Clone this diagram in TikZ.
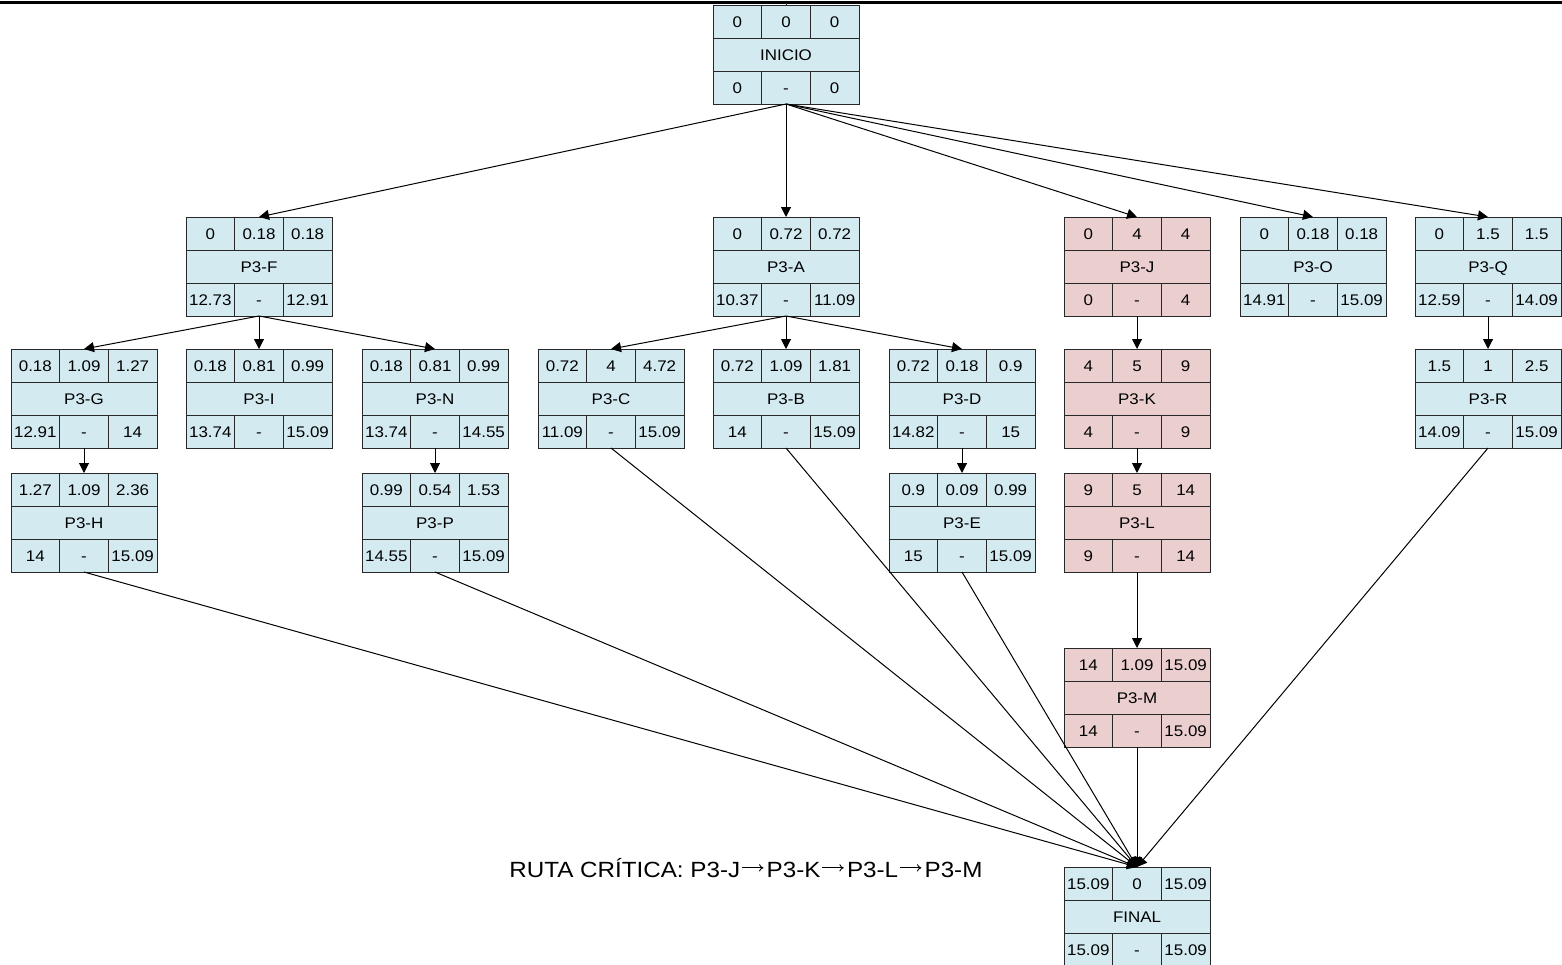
\documentclass[tikz,border=0pt]{standalone}
\usepackage{fontspec}
\setmainfont{Liberation Sans}[FakeStretch=1.1]
\usetikzlibrary{arrows.meta}

\definecolor{cellblue}{RGB}{210,234,240}
\definecolor{cellpink}{RGB}{235,206,206}
\definecolor{boxline}{RGB}{40,40,40}

\tikzset{
  actbox/.style={draw=boxline, line width=0.5pt, minimum width=73pt,
    minimum height=49.5pt, inner sep=0pt, outer sep=0pt},
  plainact/.style={actbox, fill=cellblue},
  critact/.style={actbox, fill=cellpink},
  grid line/.style={draw=boxline, line width=0.5pt},
  cell/.style={inner sep=0pt, text height=5.6pt, text depth=0pt,
    font=\fontsize{7.7}{8}\selectfont},
  link/.style={draw=black, line width=0.5pt,
    -{Triangle[length=5pt,width=5pt]}},
}

% one row of three cells: box name, tag, vertical offset, three values
\newcommand\cellrow[6]{%
  \node[cell] (#1-#21) at ([shift={(-24.33pt,#3)}]#1.center) {#4};
  \node[cell] (#1-#22) at ([shift={(0pt,#3)}]#1.center) {#5};
  \node[cell] (#1-#23) at ([shift={(24.33pt,#3)}]#1.center) {#6};
}

% activity box: name, position, style, label, {ES}{D}{EF}, {LS}{slack}{LF}
\newcommand\activity[6]{%
  \node[#3] (#1) at (#2) {};
  \draw[grid line]
    ([shift={(-36.5pt,8.25pt)}]#1.center) -- ([shift={(36.5pt,8.25pt)}]#1.center)
    ([shift={(-36.5pt,-8.25pt)}]#1.center) -- ([shift={(36.5pt,-8.25pt)}]#1.center)
    ([shift={(-12.17pt,24.75pt)}]#1.center) -- ([shift={(-12.17pt,8.25pt)}]#1.center)
    ([shift={(12.17pt,24.75pt)}]#1.center) -- ([shift={(12.17pt,8.25pt)}]#1.center)
    ([shift={(-12.17pt,-8.25pt)}]#1.center) -- ([shift={(-12.17pt,-24.75pt)}]#1.center)
    ([shift={(12.17pt,-8.25pt)}]#1.center) -- ([shift={(12.17pt,-24.75pt)}]#1.center);
  \node[cell] (#1-name) at (#1.center) {#4};
  \cellrow{#1}{t}{16.5pt}#5
  \cellrow{#1}{b}{-16.5pt}#6
}

% thin arrow between activities in the caption
\newcommand\nextact{\kern0.6pt\tikz[baseline=0pt]{\draw[line width=0.45pt,
  -{To[length=2.2pt,width=3.6pt]}] (0pt,4.6pt) -- (10.8pt,4.6pt);}\kern1.4pt}

\begin{document}
\begin{tikzpicture}[x=0.5pt, y=-0.5pt]
\useasboundingbox (0,0) rectangle (1562,964);

% header rule
\draw[line width=1.6pt] (0,2.5) -- (1562,2.5);
\coordinate (bar) at (786,2.5);

% start
\activity{inicio}{786,54.5}{plainact}{INICIO}{{0}{0}{0}}{{0}{-}{0}}

% first level
\activity{pF}{259,266.5}{plainact}{P3-F}{{0}{0.18}{0.18}}{{12.73}{-}{12.91}}
\activity{pA}{786,266.5}{plainact}{P3-A}{{0}{0.72}{0.72}}{{10.37}{-}{11.09}}
\activity{pJ}{1137,266.5}{critact}{P3-J}{{0}{4}{4}}{{0}{-}{4}}
\activity{pO}{1313,266.5}{plainact}{P3-O}{{0}{0.18}{0.18}}{{14.91}{-}{15.09}}
\activity{pQ}{1488,266.5}{plainact}{P3-Q}{{0}{1.5}{1.5}}{{12.59}{-}{14.09}}

% second level
\activity{pG}{84,398.5}{plainact}{P3-G}{{0.18}{1.09}{1.27}}{{12.91}{-}{14}}
\activity{pI}{259,398.5}{plainact}{P3-I}{{0.18}{0.81}{0.99}}{{13.74}{-}{15.09}}
\activity{pN}{435,398.5}{plainact}{P3-N}{{0.18}{0.81}{0.99}}{{13.74}{-}{14.55}}
\activity{pC}{611,398.5}{plainact}{P3-C}{{0.72}{4}{4.72}}{{11.09}{-}{15.09}}
\activity{pB}{786,398.5}{plainact}{P3-B}{{0.72}{1.09}{1.81}}{{14}{-}{15.09}}
\activity{pD}{962,398.5}{plainact}{P3-D}{{0.72}{0.18}{0.9}}{{14.82}{-}{15}}
\activity{pK}{1137,398.5}{critact}{P3-K}{{4}{5}{9}}{{4}{-}{9}}
\activity{pR}{1488,398.5}{plainact}{P3-R}{{1.5}{1}{2.5}}{{14.09}{-}{15.09}}

% third level
\activity{pH}{84,522.5}{plainact}{P3-H}{{1.27}{1.09}{2.36}}{{14}{-}{15.09}}
\activity{pP}{435,522.5}{plainact}{P3-P}{{0.99}{0.54}{1.53}}{{14.55}{-}{15.09}}
\activity{pE}{962,522.5}{plainact}{P3-E}{{0.9}{0.09}{0.99}}{{15}{-}{15.09}}
\activity{pL}{1137,522.5}{critact}{P3-L}{{9}{5}{14}}{{9}{-}{14}}

% last critical activity and finish
\activity{pM}{1137,697.5}{critact}{P3-M}{{14}{1.09}{15.09}}{{14}{-}{15.09}}
\activity{final}{1137,916.5}{plainact}{FINAL}{{15.09}{0}{15.09}}{{15.09}{-}{15.09}}

% connectors
\draw[grid line] (inicio.north) -- (bar);
\foreach \t in {pF,pA,pJ,pO,pQ}
  \draw[link] (inicio.south) -- (\t.north);
\foreach \t in {pG,pI,pN}
  \draw[link] (pF.south) -- (\t.north);
\foreach \t in {pC,pB,pD}
  \draw[link] (pA.south) -- (\t.north);
\draw[link] (pG.south) -- (pH.north);
\draw[link] (pN.south) -- (pP.north);
\draw[link] (pD.south) -- (pE.north);
\draw[link] (pJ.south) -- (pK.north);
\draw[link] (pK.south) -- (pL.north);
\draw[link] (pL.south) -- (pM.north);
\draw[link] (pQ.south) -- (pR.north);
\foreach \s in {pH,pP,pC,pB,pE,pM,pR}
  \draw[link] (\s.south) -- (final.north);

% critical path caption
\node[anchor=base west, inner sep=0pt, font=\fontsize{11}{13}\selectfont] (ruta)
  at (509,877) {RUTA CRÍTICA: P3-J\nextact P3-K\nextact P3-L\nextact P3-M};
\end{tikzpicture}
\end{document}
